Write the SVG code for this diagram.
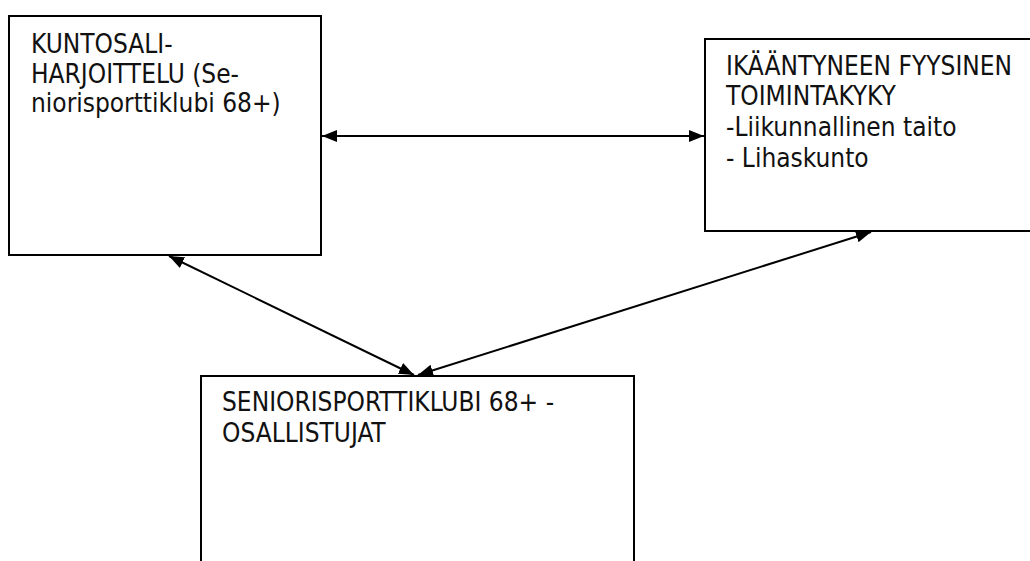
<svg xmlns="http://www.w3.org/2000/svg" width="1030" height="561" viewBox="0 0 1030 561">
<style>
.box{fill:#fff;stroke:#000;stroke-width:2}
.t{font-family:"DejaVu Sans Condensed","DejaVu Sans",sans-serif;font-size:26px;fill:#111}
.c{stroke:#000;stroke-width:2;fill:none;marker-start:url(#ah);marker-end:url(#ah)}
</style>
<defs>
<marker id="ah" viewBox="0 0 15 12" refX="15" refY="6" markerWidth="15" markerHeight="12" markerUnits="userSpaceOnUse" orient="auto-start-reverse">
<path d="M0,0 L15,6 L0,12 z" fill="#000"/>
</marker>
</defs>
<rect width="1030" height="561" fill="#fff"/>
<g id="n1">
<rect class="box" x="9" y="16" width="312" height="239"/>
<text class="t" x="31" y="53">KUNTOSALI-</text>
<text class="t" x="31" y="82.5">HARJOITTELU (Se-</text>
<text class="t" x="31" y="111.5">niorisporttiklubi 68+)</text>
</g>
<g id="n2">
<rect class="box" x="705" y="39" width="330" height="192"/>
<text class="t" x="726" y="75">IKÄÄNTYNEEN FYYSINEN</text>
<text class="t" x="726" y="105">TOIMINTAKYKY</text>
<text class="t" x="726" y="135.5">-Liikunnallinen taito</text>
<text class="t" x="726" y="166.5">- Lihaskunto</text>
</g>
<g id="n3">
<rect class="box" x="201" y="376" width="433" height="200"/>
<text class="t" x="222" y="411">SENIORISPORTTIKLUBI 68+ -</text>
<text class="t" x="222" y="442">OSALLISTUJAT</text>
</g>
<g id="connectors">
<line class="c" x1="322" y1="136" x2="704" y2="136"/>
<line class="c" x1="169" y1="256" x2="414" y2="375"/>
<line class="c" x1="418" y1="375" x2="871" y2="232"/>
</g>
</svg>
